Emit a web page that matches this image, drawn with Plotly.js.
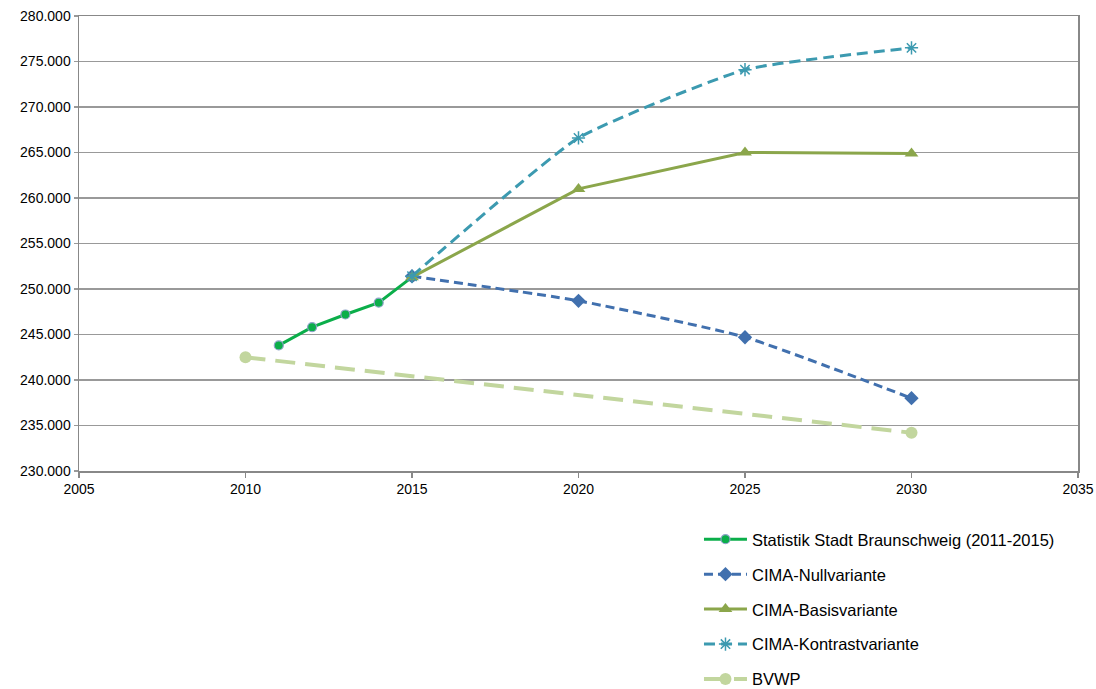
<!DOCTYPE html>
<html><head><meta charset="utf-8">
<script src="https://cdn.plot.ly/plotly-3.0.1.min.js"></script>
<style>body{margin:0;background:#fff}#c{width:1096px;height:689px}</style>
</head><body><div id="c"></div>
<script>
const statYears = [2011, 2012, 2013, 2014, 2015];
const statValues = [243800, 245800, 247200, 248500, 251300];
const projYears = [2015, 2020, 2025, 2030];
const nullValues = [251400, 248700, 244700, 238000];
const basisValues = [251300, 261000, 265000, 264900];
const kontrastValues = [251400, 266600, 274100, 276500];
const bvwpYears = [2010, 2030];
const bvwpValues = [242500, 234200];
const yTicks = [230000, 235000, 240000, 245000, 250000, 255000, 260000, 265000, 270000, 275000, 280000];
const yTickLabels = yTicks.map(v => (v/1000).toFixed(3));
const xTicks = [2005, 2010, 2015, 2020, 2025, 2030, 2035];

const traces = [
  {x: statYears, y: statValues, name: 'Statistik Stadt Braunschweig (2011-2015)', legendgroup:'a', mode:'lines+markers',
   line:{color:'#0BAE4A', width:3}, marker:{symbol:'circle', size:9, color:'#0BAE4A', line:{color:'#8EA3C8', width:1.2}}},
  {x: projYears, y: nullValues, name: 'CIMA-Nullvariante', legendgroup:'b', mode:'lines+markers',
   line:{color:'#4170AE', width:3, dash:'9px,5px', shape:'spline', smoothing:0.5}, marker:{symbol:'diamond', size:11, color:'#4170AE'}},
  {x: projYears, y: basisValues, name: 'CIMA-Basisvariante', legendgroup:'c', mode:'lines+markers',
   line:{color:'#8BA64B', width:3}, marker:{symbol:'triangle-up', size:12, color:'#8BA64B'}},
  {x: projYears, y: kontrastValues, name: 'CIMA-Kontrastvariante', legendgroup:'d', mode:'lines+markers',
   line:{color:'#3C9AB0', width:3, dash:'11px,6px', shape:'spline', smoothing:0.45}, marker:{symbol:'asterisk-open', size:11, color:'#3C9AB0', line:{color:'#3C9AB0', width:1.5}}},
  {x: bvwpYears, y: bvwpValues, name: 'BVWP', legendgroup:'e', mode:'lines+markers',
   line:{color:'#C2D69E', width:4, dash:'20px,10px'}, marker:{symbol:'circle', size:12, color:'#C2D69E'}}
];

const layout = {
  width:1096, height:689,
  margin:{l:79, r:18, t:16, b:218, autoexpand:false},
  paper_bgcolor:'#fff', plot_bgcolor:'#fff',
  font:{family:'Liberation Sans, Arial, sans-serif', size:14, color:'#000'},
  showlegend:true,
  legend:{x:0.6206, y:-0.112, xanchor:'left', yanchor:'top', orientation:'v', tracegroupgap:10.5, itemwidth:43,
    font:{size:16.5, color:'#000'}, bgcolor:'rgba(0,0,0,0)'},
  xaxis:{range:[2005,2035], tickvals:xTicks, ticktext:xTicks.map(String), showgrid:false, zeroline:false,
    showline:true, linecolor:'#888', linewidth:1.5, mirror:true, ticks:'outside', ticklen:5, tickcolor:'#888', tickwidth:1.5},
  yaxis:{range:[230000,280000], tickvals:yTicks, ticktext:yTickLabels, showgrid:true, gridcolor:'#999', gridwidth:1.2,
    zeroline:false, showline:true, linecolor:'#888', linewidth:1.5, mirror:true, ticks:'outside', ticklen:4, tickcolor:'#999', tickwidth:1.2}
};
Plotly.newPlot('c', traces, layout, {displayModeBar:false, staticPlot:true});
</script></body></html>
